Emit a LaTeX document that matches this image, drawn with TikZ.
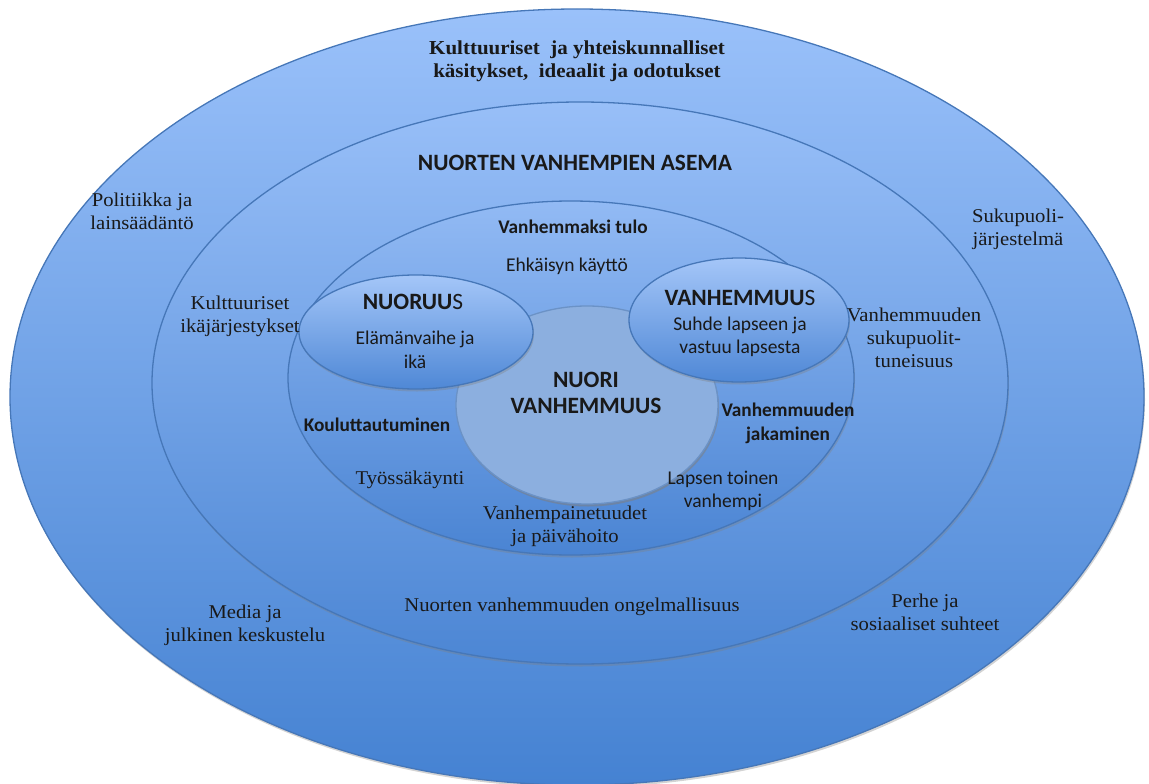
\documentclass[tikz,border=0pt]{standalone}
\usepackage{fontspec}
\setmainfont{Liberation Serif}[FakeStretch=1.06]
\newfontfamily\calib{Carlito}
\usetikzlibrary{shapes.geometric,shadows}
\definecolor{ringline}{HTML}{4677B8}
\definecolor{outtop}{HTML}{9AC1FA}
\definecolor{outbot}{HTML}{4582D2}
\definecolor{midtop}{HTML}{98BFF8}
\definecolor{midbot}{HTML}{4C86D4}
\definecolor{intop}{HTML}{92BAF4}
\definecolor{inbot}{HTML}{4A84D3}
\definecolor{corefill}{HTML}{8CAFDF}
\definecolor{smtop}{HTML}{A4C6F8}
\definecolor{smbot}{HTML}{4F88D6}
\tikzset{
  ring/.style={ellipse, inner sep=0pt, draw=ringline, line width=1.3pt,
    drop shadow={opacity=0.35, shadow xshift=1pt, shadow yshift=-2.5pt}},
  serif/.style={align=center, text=black!90, font=\fontsize{19.5}{23}\selectfont},
  serifb/.style={align=center, text=black!90, font=\fontsize{19.8}{23}\selectfont\bfseries},
  sans/.style={align=center, text=black!90, font=\calib\fontsize{19.5}{23.5}\selectfont},
  sansb/.style={align=center, text=black!90, font=\calib\fontsize{19.3}{24}\selectfont\bfseries},
  title/.style={align=center, text=black!90, font=\calib\fontsize{23.4}{26}\selectfont\bfseries},
}
\begin{document}
\begin{tikzpicture}[x=1pt,y=-1pt]
\useasboundingbox (0,0) rectangle (1149,784);
% ellipses
\node[ring, top color=outtop, bottom color=outbot, minimum width=1134pt, minimum height=776pt] (outer) at (577,397) {};
\node[ring, top color=midtop, bottom color=midbot, minimum width=856pt, minimum height=562pt] (mid) at (580,383) {};
\node[ring, top color=intop, bottom color=inbot, minimum width=566pt, minimum height=354pt] (inner) at (571,378) {};
\node[ring, fill=corefill, draw=ringline!80, minimum width=262pt, minimum height=198pt,
  drop shadow={opacity=0.3, shadow xshift=1pt, shadow yshift=-2.5pt}] (core) at (587,405) {};
\node[ring, top color=smtop, bottom color=smbot, minimum width=234pt, minimum height=114pt] (nuoruus) at (416,332) {};
\node[ring, top color=smtop, bottom color=smbot, minimum width=220pt, minimum height=124pt] (vanh) at (739,320) {};
% outer ring texts
\node[serifb] (t1) at (577,61) {Kulttuuriset\ \ ja yhteiskunnalliset\\käsitykset,\ \ ideaalit ja odotukset};
\node[serif] (t2) at (142,211) {Politiikka ja\\lainsäädäntö};
\node[serif] (t3) at (1018,229) {Sukupuoli-\\järjestelmä};
\node[serif] (t4) at (245,625) {Media ja\\julkinen keskustelu};
\node[serif] (t5) at (925,612) {Perhe ja\\sosiaaliset suhteet};
% middle ring texts
\node[title] (t6) at (575,163) {NUORTEN VANHEMPIEN ASEMA};
\node[serif] (t7) at (240,316) {Kulttuuriset\\ikäjärjestykset};
\node[serif] (t8) at (914,338) {Vanhemmuuden\\sukupuolit-\\tuneisuus};
\node[serif] (t9) at (572,607) {Nuorten vanhemmuuden ongelmallisuus};
% inner ring texts
\node[sansb] (t10) at (573,227) {Vanhemmaksi tulo};
\node[sans] (t11) at (567,266) {Ehkäisyn käyttö};
\node[sansb] (t12) at (377,425) {Kouluttautuminen};
\node[sansb] (t13) at (788,423) {Vanhemmuuden\\jakaminen};
\node[serif] (t14) at (410,480) {Työssäkäynti};
\node[sans] (t15) at (723,491) {Lapsen toinen\\vanhempi};
\node[serif] (t16) at (565,526) {Vanhempainetuudet\\ja päivähoito};
% small ellipse texts
\node[title] (t17) at (413,302) {NUORUU{\mdseries S}};
\node[sans] (t18) at (415,350) {Elämänvaihe ja\\ikä};
\node[title] (t19) at (740,298) {VANHEMMUU{\mdseries S}};
\node[sans] (t20) at (740,337) {Suhde lapseen ja\\vastuu lapsesta};
\node[title] (t21) at (586,393) {NUORI\\VANHEMMUUS};
\end{tikzpicture}
\end{document}
